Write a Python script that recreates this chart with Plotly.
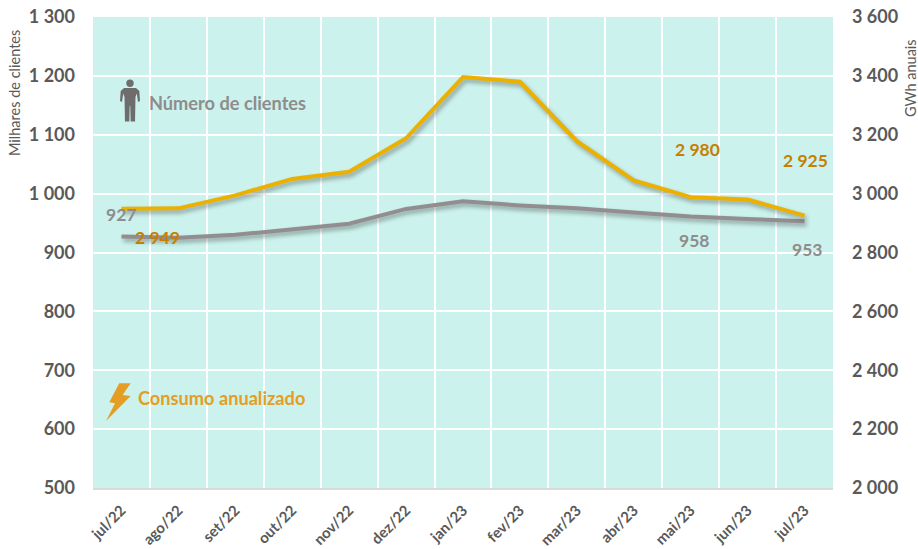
import plotly.graph_objects as go

months = ["jul/22","ago/22","set/22","out/22","nov/22","dez/22","jan/23","fev/23","mar/23","abr/23","mai/23","jun/23","jul/23"]
clientes = [927,925,930,940,949,974,987,980,975,968,961,957,953]
consumo = [2949,2950,2994,3050,3074,3188,3396,3380,3178,3045,2988,2980,2925]
left_ticks = [500,600,700,800,900,1000,1100,1200,1300]
left_text = ["500","600","700","800","900","1 000","1 100","1 200","1 300"]
right_ticks = [2000,2200,2400,2600,2800,3000,3200,3400,3600]
right_text = ["2 000","2 200","2 400","2 600","2 800","3 000","3 200","3 400","3 600"]

W, H = 918, 549
L, R, T, B = 93, 833, 17, 488
FONT = "Lato, Carlito, Calibri, sans-serif"
GREY = "#595959"
LINE_GREY = "#928E90"
LINE_GOLD = "#EBB000"
LABEL_GREY = "#8E8C8D"
LABEL_GOLD = "#C67F00"

def px(x): return (x - L) / (R - L)
def py(y): return (B - y) / (B - T)
def path(points):
    return "M" + " L".join(f"{px(x):.4f},{py(y):.4f}" for x, y in points) + " Z"

fig = go.Figure()
fig.add_trace(go.Scatter(x=months, y=clientes, yaxis="y", mode="lines", showlegend=False,
                         line=dict(color=LINE_GREY, width=4)))
fig.add_trace(go.Scatter(x=months, y=consumo, yaxis="y2", mode="lines", showlegend=False,
                         line=dict(color=LINE_GOLD, width=4)))

def free_text(text, x, y, color, size, bold=True, angle=0):
    fig.add_annotation(xref="paper", yref="paper", x=px(x), y=py(y), text=f"<b>{text}</b>" if bold else text,
                       showarrow=False, textangle=angle, xanchor="center", yanchor="middle",
                       font=dict(family=FONT, size=size, color=color))

free_text("927", 121, 214, LABEL_GREY, 17.5)
free_text("2 949", 157, 237, LABEL_GOLD, 17.5)
free_text("958", 694, 240, LABEL_GREY, 17.5)
free_text("953", 807, 249, LABEL_GREY, 17.5)
free_text("2 980", 697, 149, LABEL_GOLD, 17.5)
free_text("2 925", 805, 160, LABEL_GOLD, 17.5)
free_text("Número de clientes", 227, 103, LABEL_GREY, 18.2)
free_text("Consumo anualizado", 221, 398, "#E59D23", 18.2)
free_text("Milhares de clientes", 15, 93, GREY, 14.5, bold=False, angle=-90)
free_text("GWh anuais", 911, 78, GREY, 14.5, bold=False, angle=-90)

shapes = [
    dict(type="path", xref="paper", yref="paper", line_width=0, fillcolor="#E59D23",
         path=path([(119.3,383.3),(130.7,383.3),(122.7,395),(130.7,396),(106,421),(115,403.3),(109.3,402.3)])),
    dict(type="circle", xref="paper", yref="paper", line_width=0, fillcolor="#6E6C6D",
         x0=px(126.3), x1=px(133.7), y0=py(87), y1=py(79.6)),
    dict(type="path", xref="paper", yref="paper", line_width=0, fillcolor="#6E6C6D",
         path=path([(124,88),(136,88),(139.3,91),(140,101),(138,102),(136.8,93.5),(135.5,97),(135,121.5),(130.7,121.5),
                    (130.3,106),(129.7,106),(129.3,121.5),(125,121.5),(124.5,97),(123.2,93.5),(122,102),(120,101),(120.7,91)])),
]

fig.update_layout(
    width=W, height=H, margin=dict(l=L, r=W-R, t=T, b=H-B, autoexpand=False),
    paper_bgcolor="white", plot_bgcolor="#CBF2EC", showlegend=False, shapes=shapes,
    font=dict(family=FONT, color=GREY),
    xaxis=dict(type="category", categoryorder="array", categoryarray=months, tickson="boundaries",
               tickangle=-45, showgrid=True, gridcolor="white", gridwidth=2, showline=True, automargin=False,
               linecolor="#D9D9D9", linewidth=1.5, ticks="", ticklabelstandoff=6,
               tickfont=dict(family=FONT, size=15, color=GREY, weight="bold"), zeroline=False,
               range=[-0.5, 12.5]),
    yaxis=dict(range=[500,1300], tickvals=left_ticks, ticktext=left_text, showgrid=True, gridcolor="white",
               gridwidth=2, zeroline=False, showline=False, ticks="", ticklabelstandoff=17, automargin=False,
               tickfont=dict(family=FONT, size=18, color=GREY, weight="bold")),
    yaxis2=dict(range=[2000,3600], tickvals=right_ticks, ticktext=right_text, overlaying="y", side="right",
                showgrid=False, zeroline=False, showline=False, ticks="", ticklabelstandoff=18, automargin=False,
                tickfont=dict(family=FONT, size=18, color=GREY, weight="bold")),
)

post = ("document.body.style.margin='0';"
        "document.querySelectorAll('.scatterlayer .js-line').forEach(function(p){"
        "p.style.filter='drop-shadow(2px 3px 2px rgba(60,60,60,0.45))';});")
fig.write_html("out.html", post_script=post, config=dict(displayModeBar=False))
